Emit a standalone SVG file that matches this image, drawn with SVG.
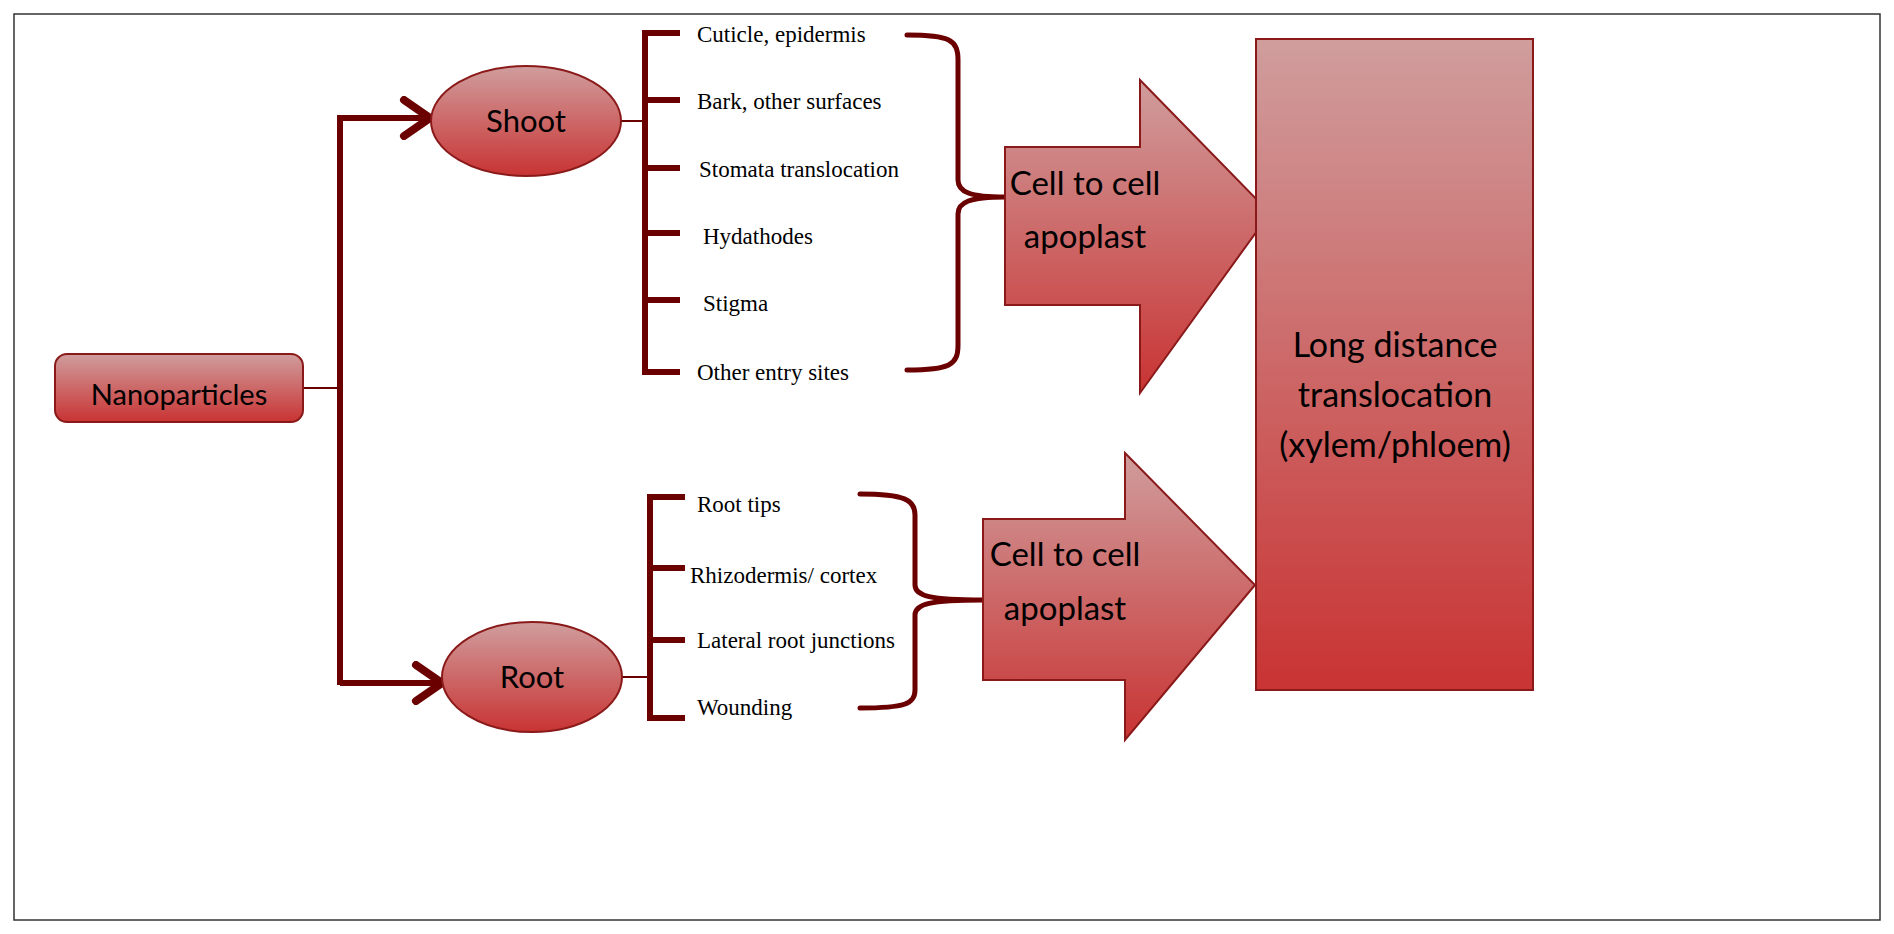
<svg xmlns="http://www.w3.org/2000/svg" width="1894" height="934" viewBox="0 0 1894 934">
<defs>
<linearGradient id="g" x1="0" y1="0" x2="0" y2="1"><stop offset="0" stop-color="#d09d9d"/><stop offset="1" stop-color="#c93333"/></linearGradient>
<marker id="ah" markerWidth="40" markerHeight="44" refX="34" refY="22" orient="auto" markerUnits="userSpaceOnUse" viewBox="0 0 40 44"><path d="M8,4 L34,22 L8,40" fill="none" stroke="#6b0000" stroke-width="8" stroke-linecap="round" stroke-linejoin="miter"/></marker>
<style>
.n{fill:url(#g);stroke:#8a1a1a;stroke-width:2}
.t{font-family:Lato,"Open Sans",sans-serif;fill:#000;text-anchor:middle}
.s{font-family:"Liberation Serif",serif;font-size:23px;fill:#000}
.th{fill:none;stroke:#6b0000;stroke-width:6}
.tn{fill:none;stroke:#6b0000;stroke-width:2}
.br{fill:none;stroke:#6b0000;stroke-width:5;stroke-linecap:round}
</style>
</defs>
<rect x="14" y="14" width="1866" height="906" fill="#fff" stroke="#333" stroke-width="1.5"/>
<g id="connectors">
<path class="tn" d="M303,388 H340"/>
<path class="th" d="M340,685 V118 H430" marker-end="url(#ah)"/>
<path class="th" d="M340,683 H442" marker-end="url(#ah)"/>
<path class="tn" d="M620,121 H645"/>
<path class="th" d="M680,33 H645 V372 H680 M645,100 H680 M645,168 H680 M645,233 H680 M645,300 H680"/>
<path class="tn" d="M622,677 H650"/>
<path class="th" d="M685,497 H650 V718 H685 M650,568 H685 M650,640 H685"/>
<path class="br" d="M907,35 C950,35 958,40 958,60 V180 C958,192 970,197 1005,197 C970,197 958,202 958,214 V345 C958,365 950,370 907,370"/>
<path class="br" d="M860,494 C905,494 915,500 915,515 V585 C915,596 930,600 983,600 C930,600 915,604 915,615 V690 C915,704 905,708 860,708"/>
</g>
<g id="nanoparticles"><rect class="n" x="55" y="354" width="248" height="68" rx="12"/><text class="t" x="179" y="405" font-size="29">Nanoparticles</text></g>
<g id="shoot"><ellipse class="n" cx="526" cy="121" rx="95" ry="55"/><text class="t" x="526" y="132" font-size="31">Shoot</text></g>
<g id="root"><ellipse class="n" cx="532" cy="677" rx="90" ry="55"/><text class="t" x="532" y="688" font-size="31">Root</text></g>
<g id="shoot-sites">
<text class="s" x="697" y="42">Cuticle, epidermis</text>
<text class="s" x="697" y="109">Bark, other surfaces</text>
<text class="s" x="699" y="177">Stomata translocation</text>
<text class="s" x="703" y="244">Hydathodes</text>
<text class="s" x="703" y="311">Stigma</text>
<text class="s" x="697" y="380">Other entry sites</text>
</g>
<g id="root-sites">
<text class="s" x="697" y="512">Root tips</text>
<text class="s" x="690" y="583">Rhizodermis/ cortex</text>
<text class="s" x="697" y="648">Lateral root junctions</text>
<text class="s" x="697" y="715">Wounding</text>
</g>
<g id="apoplast1"><path class="n" d="M1005,147 H1140 V80 L1270,213 L1140,393 V305 H1005 Z"/><text class="t" x="1085" y="195" font-size="33">Cell to cell</text><text class="t" x="1085" y="248" font-size="33">apoplast</text></g>
<g id="apoplast2"><path class="n" d="M983,519 H1125 V453 L1255,585 L1125,740 V680 H983 Z"/><text class="t" x="1065" y="566" font-size="33">Cell to cell</text><text class="t" x="1065" y="620" font-size="33">apoplast</text></g>
<g id="long"><rect class="n" x="1256" y="39" width="277" height="651"/><text class="t" x="1395" y="357" font-size="34">Long distance</text><text class="t" x="1395" y="407" font-size="34">translocation</text><text class="t" x="1395" y="457" font-size="34">(xylem/phloem)</text></g>
</svg>
